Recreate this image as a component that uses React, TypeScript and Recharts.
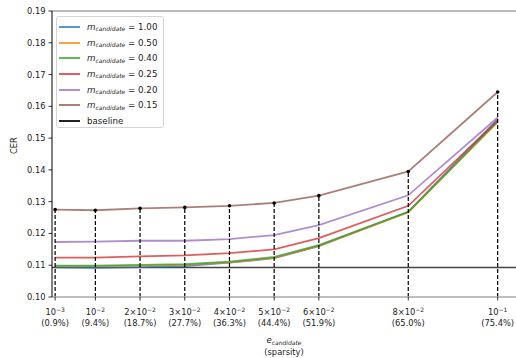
import React from "react";
import {
  ComposedChart,
  Line,
  XAxis,
  YAxis,
  ReferenceLine,
  Label,
} from "recharts";

// e_candidate values (x positions) and their tick labels
const eValues = [0.001, 0.01, 0.02, 0.03, 0.04, 0.05, 0.06, 0.08, 0.1];
const eMant = ["", "", "2×", "3×", "4×", "5×", "6×", "8×", ""];
const eExp = ["−3", "−2", "−2", "−2", "−2", "−2", "−2", "−2", "−1"];
const sparsity = ["(0.9%)", "(9.4%)", "(18.7%)", "(27.7%)", "(36.3%)", "(44.4%)", "(51.9%)", "(65.0%)", "(75.4%)"];

// CER for each m_candidate
const cer100 = [0.1093, 0.1092, 0.1094, 0.1097, 0.1108, 0.1122, 0.116, 0.1268, 0.156];
const cer050 = [0.1097, 0.1097, 0.1099, 0.1101, 0.1109, 0.1123, 0.1161, 0.1266, 0.1552];
const cer040 = [0.1099, 0.1099, 0.1101, 0.1103, 0.1111, 0.1126, 0.1163, 0.1268, 0.1551];
const cer025 = [0.1124, 0.1124, 0.1128, 0.1131, 0.1138, 0.115, 0.1185, 0.1287, 0.1555];
const cer020 = [0.1173, 0.1174, 0.1177, 0.1177, 0.1182, 0.1195, 0.1226, 0.132, 0.1565];
const cer015 = [0.1275, 0.1273, 0.1279, 0.1282, 0.1287, 0.1296, 0.1319, 0.1395, 0.1645];
const baseline = 0.1093;

const yTicks = [0.1, 0.11, 0.12, 0.13, 0.14, 0.15, 0.16, 0.17, 0.18, 0.19];

const series = [
  { key: "m100", label: "1.00", color: "#1f77b4", values: cer100 },
  { key: "m050", label: "0.50", color: "#ff7f0e", values: cer050 },
  { key: "m040", label: "0.40", color: "#2ca02c", values: cer040 },
  { key: "m025", label: "0.25", color: "#d62728", values: cer025 },
  { key: "m020", label: "0.20", color: "#9467bd", values: cer020 },
  { key: "m015", label: "0.15", color: "#8c564b", values: cer015 },
];

const data = eValues.map((e, i) => {
  const row: Record<string, number> = { e };
  series.forEach((s) => (row[s.key] = s.values[i]));
  return row;
});

const FONT = "DejaVu Sans";

const XTick = (props: any) => {
  const { x, y, payload } = props;
  const i = eValues.indexOf(payload.value);
  if (i < 0) return null;
  return (
    <g>
      <line x1={x} x2={x} y1={y - 8} y2={y - 4.5} stroke="#000" strokeWidth={0.8} />
      <text x={x} y={y + 10} textAnchor="middle" fontSize={8.3} fill="#222" fontFamily={FONT}>
        <tspan>{eMant[i] + "10"}</tspan>
        <tspan dy={-3.5} fontSize={6}>{eExp[i]}</tspan>
      </text>
      <text x={x} y={y + 21} textAnchor="middle" fontSize={8.3} fill="#222" fontFamily={FONT}>
        {sparsity[i]}
      </text>
    </g>
  );
};

const XLabel = (props: any) => {
  const { viewBox } = props;
  const cx = viewBox.x + viewBox.width / 2;
  const y = viewBox.y;
  return (
    <g fontFamily={FONT} fill="#222">
      <text x={cx} y={y + 46} textAnchor="middle" fontSize={8.5}>
        <tspan fontStyle="italic">e</tspan>
        <tspan dy={2} fontSize={6} fontStyle="italic">candidate</tspan>
      </text>
      <text x={cx} y={y + 58} textAnchor="middle" fontSize={8.3}>
        (sparsity)
      </text>
    </g>
  );
};

const BrownDot = (props: any) => {
  const { cx, cy } = props;
  if (cx == null || cy == null) return null;
  return <circle cx={cx} cy={cy} r={1.8} fill="#000" />;
};

const LegendBox = () => (
  <div
    style={{
      position: "absolute",
      left: 56,
      top: 16,
      width: 108,
      height: 112,
      border: "1px solid #d5d5d5",
      borderRadius: 3,
      background: "rgba(255,255,255,0.85)",
      fontFamily: FONT,
      fontSize: 8.7,
      color: "#222",
      boxSizing: "border-box",
      paddingTop: 2,
    }}
  >
    {[...series.map((s) => ({ color: s.color, label: s.label, base: false })), { color: "#222", label: "baseline", base: true }].map(
      (it, i) => (
        <div key={i} style={{ display: "flex", alignItems: "center", height: 15.7 }}>
          <div
            style={{
              marginLeft: 2,
              width: 21,
              height: 2,
              background: it.color,
              opacity: it.base ? 1 : 0.75,
            }}
          />
          <div style={{ marginLeft: 7, whiteSpace: "nowrap" }}>
            {it.base ? (
              "baseline"
            ) : (
              <span>
                <i style={{ fontFamily: FONT }}>m</i>
                <i style={{ fontSize: 6, position: "relative", top: 1.5 }}>candidate</i>
                {" = " + it.label}
              </span>
            )}
          </div>
        </div>
      )
    )}
  </div>
);

export default function App() {
  return (
    <div style={{ position: "absolute", left: 0, top: 0, width: 516, height: 358, background: "#fff" }}>
      <ComposedChart width={516} height={358} data={data} margin={{ top: 11, right: 0, bottom: 0, left: 0 }}>
        <XAxis
          dataKey="e"
          type="number"
          domain={[0.0003, 0.1041]}
          ticks={eValues}
          allowDataOverflow
          height={61}
          tick={<XTick />}
          tickLine={false}
          axisLine={{ stroke: "#aaa", strokeWidth: 1.5 }}
          interval={0}
        >
          <Label content={<XLabel />} />
        </XAxis>
        <YAxis
          type="number"
          domain={[0.1, 0.19]}
          ticks={yTicks}
          width={52}
          allowDataOverflow
          tickFormatter={(v: number) => v.toFixed(2)}
          tick={{ fontSize: 8.3, fill: "#222", fontFamily: FONT }}
          tickLine={{ stroke: "#000", strokeWidth: 0.8 }}
          tickSize={3.5}
          tickMargin={3}
          axisLine={{ stroke: "#000", strokeWidth: 1 }}
          label={{ value: "CER", angle: -90, position: "insideLeft", offset: 14, fontSize: 8.3, fill: "#222", fontFamily: FONT }}
        />
        <ReferenceLine y={0.19} stroke="#777" strokeWidth={1.2} />
        <ReferenceLine y={baseline} stroke="#444" strokeWidth={1.5} />
        {series.map((s) => (
          <Line
            key={s.key}
            dataKey={s.key}
            type="linear"
            stroke={s.color}
            strokeOpacity={0.75}
            strokeWidth={1.8}
            dot={s.key === "m015" ? <BrownDot /> : false}
            activeDot={false}
            isAnimationActive={false}
          />
        ))}
        {eValues.map((e, i) => (
          <ReferenceLine
            key={"v" + i}
            segment={[
              { x: e, y: 0.1 },
              { x: e, y: cer015[i] },
            ]}
            stroke="#000"
            strokeWidth={1.2}
            strokeDasharray="4 2"
          />
        ))}
      </ComposedChart>
      <LegendBox />
    </div>
  );
}
